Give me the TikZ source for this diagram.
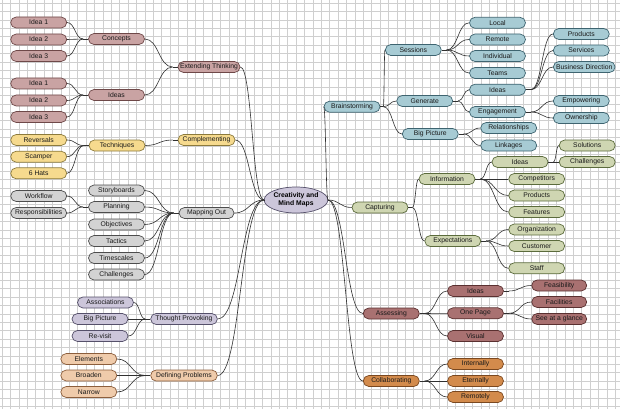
\documentclass[tikz,border=0pt]{standalone}
\usepackage{fontspec}
\setmainfont{Liberation Sans}
\usetikzlibrary{calc,shapes.geometric}
\definecolor{mAf}{HTML}{C9A3A3}\definecolor{mAd}{HTML}{6E4848}
\definecolor{yf}{HTML}{F6DA8E}\definecolor{yd}{HTML}{8C7A3C}
\definecolor{gf}{HTML}{D3D3D3}\definecolor{gd}{HTML}{4D4D4D}
\definecolor{lf}{HTML}{CCC6DA}\definecolor{ld}{HTML}{55506A}
\definecolor{pf}{HTML}{EFCBAB}\definecolor{pd}{HTML}{8C5E3C}
\definecolor{bf}{HTML}{A7CBD4}\definecolor{bd}{HTML}{3E6470}
\definecolor{grf}{HTML}{CFD6B2}\definecolor{grd}{HTML}{5B6B3C}
\definecolor{mBf}{HTML}{A97171}\definecolor{mBd}{HTML}{5A3030}
\definecolor{of}{HTML}{D38B4C}\definecolor{od}{HTML}{7A4820}
\definecolor{gridc}{HTML}{CFCFCF}
\definecolor{linec}{HTML}{303030}
\newcommand\lnk[2]{\draw[conn] let \p1=(#1), \p2=(#2) in (\p1) .. controls ({(\x1+\x2)/2},\y1) and ({(\x1+\x2)/2},\y2) .. (\p2);}
\newcommand\junL[2][5]{\coordinate (#2J) at ([xshift=-#1pt]#2.west); \draw[conn] (#2.west) -- (#2J);}
\newcommand\junR[2][5]{\coordinate (#2J) at ([xshift=#1pt]#2.east); \draw[conn] (#2.east) -- (#2J);}
\begin{document}
\begin{tikzpicture}[x=1pt,y=-1pt,
  box/.style={rounded corners=5.5pt, draw, line width=0.7pt, minimum height=11pt, minimum width=56pt, inner sep=0pt, font=\fontsize{6.8}{8}\selectfont, text=black!90},
  mA/.style={fill=mAf, draw=mAd}, yel/.style={fill=yf, draw=yd}, gry/.style={fill=gf, draw=gd},
  lav/.style={fill=lf, draw=ld}, pch/.style={fill=pf, draw=pd}, blu/.style={fill=bf, draw=bd},
  grn/.style={fill=grf, draw=grd}, mB/.style={fill=mBf, draw=mBd}, org/.style={fill=of, draw=od},
  conn/.style={draw=linec, line width=0.6pt}]
\useasboundingbox (0,0) rectangle (620,409);
\fill[white] (0,0) rectangle (620,409);
\foreach \i in {0,...,74} {\draw[gridc, line width=0.4pt] ({2+\i*8.4},0) -- ({2+\i*8.4},409);}
\foreach \i in {0,...,49} {\draw[gridc, line width=0.4pt] (0,{3+\i*8.4}) -- (620,{3+\i*8.4});}
% center
\node[draw=ld, fill=lf, line width=0.7pt, ellipse, minimum width=57pt, minimum height=26pt, inner sep=0pt, align=center, font=\fontsize{6.8}{8}\selectfont\bfseries] (C) at (296,200) {Creativity and\\Mind Maps};
\coordinate (cL) at (264,200);
\coordinate (cR) at (328,200);
\draw[conn] (C.west) -- (cL);
\draw[conn] (C.east) -- (cR);
% left side
\node[box,mA,minimum width=62pt] (ET) at (209,67) {Extending Thinking};
\node[box,mA] (Concepts) at (116.5,39) {Concepts};
\node[box,mA] (ca) at (38.7,22.5) {Idea 1};
\node[box,mA] (cb) at (38.7,39.5) {Idea 2};
\node[box,mA] (cc) at (38.7,56) {Idea 3};
\node[box,mA] (IdeasL) at (116.5,95) {Ideas};
\node[box,mA] (ia) at (38.7,83.5) {Idea 1};
\node[box,mA] (ib) at (38.7,100.5) {Idea 2};
\node[box,mA] (ic) at (38.7,117) {Idea 3};
\node[box,yel,minimum width=57pt] (Comp) at (206.5,140) {Complementing};
\node[box,yel] (Tech) at (117,145.5) {Techniques};
\node[box,yel] (Rev) at (38.7,140) {Reversals};
\node[box,yel] (Scam) at (38.7,156.7) {Scamper};
\node[box,yel] (Hats) at (38.7,173.3) {6 Hats};
\node[box,gry,minimum width=55pt] (Map) at (206.5,213) {Mapping Out};
\node[box,gry] (Story) at (116.5,190.5) {Storyboards};
\node[box,gry] (Plan) at (116.5,207) {Planning};
\node[box,gry] (Obj) at (116.5,224.5) {Objectives};
\node[box,gry] (Tac) at (116.5,241) {Tactics};
\node[box,gry] (Time) at (116.5,258) {Timescales};
\node[box,gry] (ChalL) at (116.5,274.5) {Challenges};
\node[box,gry] (Work) at (38.7,196) {Workflow};
\node[box,gry] (Resp) at (38.7,213) {Responsibilities};
\node[box,lav,minimum width=66.7pt] (TP) at (184,319) {Thought Provoking};
\node[box,lav] (Assoc) at (105.5,302.5) {Associations};
\node[box,lav] (BPL) at (100,319) {Big Picture};
\node[box,lav] (Rev2) at (100,336) {Re-visit};
\node[box,pch,minimum width=66.7pt] (DP) at (184,375.5) {Defining Problems};
\node[box,pch] (Elem) at (88.8,359) {Elements};
\node[box,pch] (Broad) at (88.8,375.5) {Broaden};
\node[box,pch] (Narr) at (88.8,392) {Narrow};
% right side
\node[box,blu] (Brain) at (352,106.7) {Brainstorming};
\node[box,blu] (Sess) at (413.3,50) {Sessions};
\node[box,blu] (Local) at (497.5,22.8) {Local};
\node[box,blu] (Remote) at (497.5,39.5) {Remote};
\node[box,blu] (Indiv) at (497.5,56) {Individual};
\node[box,blu] (Teams) at (497.5,73) {Teams};
\node[box,blu] (Gen) at (424.7,101) {Generate};
\node[box,blu] (IdeasB) at (497.5,89.7) {Ideas};
\node[box,blu] (Eng) at (497.5,112) {Engagement};
\node[box,blu] (Prod) at (581.3,34) {Products};
\node[box,blu] (Serv) at (581.3,50.5) {Services};
\node[box,blu,minimum width=61.7pt] (BD) at (584.2,67) {Business Direction};
\node[box,blu] (Emp) at (581.3,101) {Empowering};
\node[box,blu] (Own) at (581.3,118) {Ownership};
\node[box,blu] (BPR) at (430.3,134) {Big Picture};
\node[box,blu] (Rel) at (508.7,128) {Relationships};
\node[box,blu] (Link) at (508.7,145.5) {Linkages};
\node[box,grn] (Capt) at (380,207.5) {Capturing};
\node[box,grn] (Info) at (447,179) {Information};
\node[box,grn] (IdeasG) at (520,162) {Ideas};
\node[box,grn] (Sol) at (587.2,145.5) {Solutions};
\node[box,grn] (ChalG) at (587.2,162) {Challenges};
\node[box,grn] (Compet) at (536.7,179) {Competitors};
\node[box,grn] (ProdG) at (536.7,195.5) {Products};
\node[box,grn] (Feat) at (536.7,212) {Features};
\node[box,grn] (Expect) at (452.8,241) {Expectations};
\node[box,grn] (Org) at (536.7,229.5) {Organization};
\node[box,grn] (Cust) at (536.7,246) {Customer};
\node[box,grn] (Staff) at (536.7,268.3) {Staff};
\node[box,mB] (Assess) at (391.3,313.5) {Assessing};
\node[box,mB] (IdeasM) at (475.5,291) {Ideas};
\node[box,mB] (OneP) at (475.5,313.3) {One Page};
\node[box,mB] (Vis) at (475.5,336) {Visual};
\node[box,mB,minimum width=55pt] (Feas) at (559.2,285.5) {Feasibility};
\node[box,mB,minimum width=55pt] (Fac) at (559.2,302) {Facilities};
\node[box,mB,minimum width=55pt] (Glance) at (559.2,319) {See at a glance};
\node[box,org] (Coll) at (391.3,381) {Collaborating};
\node[box,org] (Int) at (475.5,364) {Internally};
\node[box,org] (Ete) at (475.5,381) {Eternally};
\node[box,org] (Remo) at (475.5,397) {Remotely};
% connectors: center
\lnk{ET.east}{cL}\lnk{Comp.east}{cL}\lnk{Map.east}{cL}\lnk{TP.east}{cL}\lnk{DP.east}{cL}
\lnk{Brain.west}{cR}\lnk{Capt.west}{cR}\lnk{Assess.west}{cR}\lnk{Coll.west}{cR}
% left junctions
\junL{ET}\lnk{Concepts.east}{ETJ}\lnk{IdeasL.east}{ETJ}
\junL{Concepts}\lnk{ca.east}{ConceptsJ}\lnk{cb.east}{ConceptsJ}\lnk{cc.east}{ConceptsJ}
\junL{IdeasL}\lnk{ia.east}{IdeasLJ}\lnk{ib.east}{IdeasLJ}\lnk{ic.east}{IdeasLJ}
\junL{Comp}\lnk{Tech.east}{CompJ}
\junL{Tech}\lnk{Rev.east}{TechJ}\lnk{Scam.east}{TechJ}\lnk{Hats.east}{TechJ}
\junL{Map}\lnk{Story.east}{MapJ}\lnk{Plan.east}{MapJ}\lnk{Obj.east}{MapJ}\lnk{Tac.east}{MapJ}\lnk{Time.east}{MapJ}\lnk{ChalL.east}{MapJ}
\junL{Plan}\lnk{Work.east}{PlanJ}\lnk{Resp.east}{PlanJ}
\junL{TP}\lnk{Assoc.east}{TPJ}\lnk{BPL.east}{TPJ}\lnk{Rev2.east}{TPJ}
\junL{DP}\lnk{Elem.east}{DPJ}\lnk{Broad.east}{DPJ}\lnk{Narr.east}{DPJ}
% right junctions
\junR[3]{Brain}\lnk{Sess.west}{BrainJ}\lnk{Gen.west}{BrainJ}\lnk{BPR.west}{BrainJ}
\junR{Sess}\lnk{Local.west}{SessJ}\lnk{Remote.west}{SessJ}\lnk{Indiv.west}{SessJ}\lnk{Teams.west}{SessJ}
\junR{Gen}\lnk{IdeasB.west}{GenJ}\lnk{Eng.west}{GenJ}
\junR{IdeasB}\lnk{Prod.west}{IdeasBJ}\lnk{Serv.west}{IdeasBJ}\lnk{BD.west}{IdeasBJ}
\junR{Eng}\lnk{Emp.west}{EngJ}\lnk{Own.west}{EngJ}
\junR{BPR}\lnk{Rel.west}{BPRJ}\lnk{Link.west}{BPRJ}
\junR[4]{Capt}\lnk{Info.west}{CaptJ}\lnk{Expect.west}{CaptJ}
\junR{Info}\lnk{IdeasG.west}{InfoJ}\lnk{Compet.west}{InfoJ}\lnk{ProdG.west}{InfoJ}\lnk{Feat.west}{InfoJ}
\junR{IdeasG}\lnk{Sol.west}{IdeasGJ}\lnk{ChalG.west}{IdeasGJ}
\junR{Expect}\lnk{Org.west}{ExpectJ}\lnk{Cust.west}{ExpectJ}\lnk{Staff.west}{ExpectJ}
\junR{Assess}\lnk{IdeasM.west}{AssessJ}\lnk{OneP.west}{AssessJ}\lnk{Vis.west}{AssessJ}
\junR{IdeasM}\lnk{Feas.west}{IdeasMJ}
\junR{OneP}\lnk{Fac.west}{OnePJ}\lnk{Glance.west}{OnePJ}
\junR{Coll}\lnk{Int.west}{CollJ}\lnk{Ete.west}{CollJ}\lnk{Remo.west}{CollJ}
\end{tikzpicture}
\end{document}
